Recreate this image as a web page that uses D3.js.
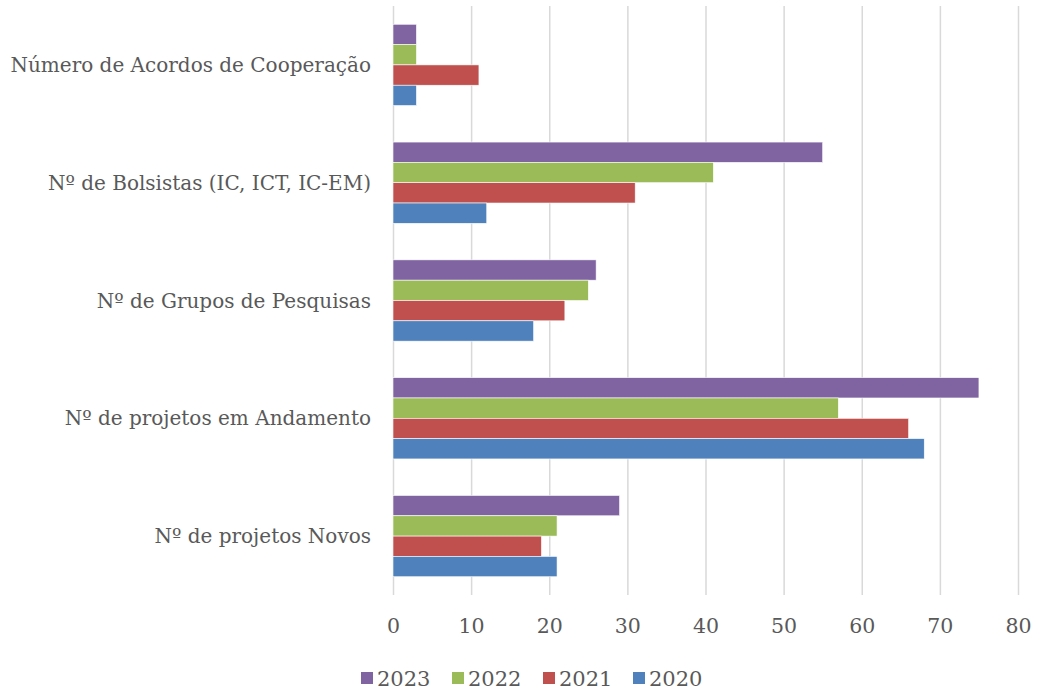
<!DOCTYPE html>
<html>
<head>
<meta charset="utf-8">
<script src="https://cdn.jsdelivr.net/npm/d3@7"></script>
<style>
  body { margin: 0; background: #fff; }
  text { font-family: "DejaVu Serif", "Liberation Serif", serif; fill: #595959; }
</style>
</head>
<body>
<script>
// categories top to bottom, series drawn top to bottom inside each group
var categories = [
  "Número de Acordos de Cooperação",
  "Nº de Bolsistas (IC, ICT, IC-EM)",
  "Nº de Grupos de Pesquisas",
  "Nº de projetos em Andamento",
  "Nº de projetos Novos"
];
var years = ["2023", "2022", "2021", "2020"];
var colors = ["#8064A2", "#9BBB59", "#C0504D", "#4F81BD"];

var values2023 = [3, 55, 26, 75, 29];
var values2022 = [3, 41, 25, 57, 21];
var values2021 = [11, 31, 22, 66, 19];
var values2020 = [3, 12, 18, 68, 21];
var xTicks = [0, 10, 20, 30, 40, 50, 60, 70, 80];

var series = [values2023, values2022, values2021, values2020];

var W = 1055, H = 692;
var margin = {top: 6, right: 37, bottom: 97, left: 393};
var width = W - margin.left - margin.right;
var height = H - margin.top - margin.bottom;

var svg = d3.select("body").append("svg")
    .attr("width", W)
    .attr("height", H)
    .append("g")
    .attr("transform", "translate(" + margin.left + "," + margin.top + ")");

var xScale = d3.scaleLinear().domain([0, 80]).range([0, width]);
var yScale = d3.scaleBand().domain(categories).range([0, height])
    .paddingInner(0.31).paddingOuter(0.155);
var ySub = d3.scaleBand().domain(years).range([0, yScale.bandwidth()]);

// gridlines + tick labels
var xAxis = d3.axisBottom(xScale).tickValues(xTicks).tickSize(-height).tickPadding(23);
var gx = svg.append("g")
    .attr("transform", "translate(0," + height + ")")
    .call(xAxis);
gx.select(".domain").remove();
gx.selectAll(".tick line").attr("stroke", "#d9d9d9").attr("stroke-width", 1.5);
gx.selectAll(".tick text")
    .style("font-family", "DejaVu Serif")
    .style("font-size", "20.5px")
    .attr("fill", "#595959");

// bars
categories.forEach(function(cat, i) {
    var g = svg.append("g").attr("transform", "translate(0," + yScale(cat) + ")");
    years.forEach(function(yr, j) {
        g.append("rect")
            .attr("x", xScale(0))
            .attr("y", ySub(yr))
            .attr("width", xScale(series[j][i]) - xScale(0))
            .attr("height", ySub.bandwidth())
            .attr("fill", colors[j])
            .attr("stroke", "#fff")
            .attr("stroke-width", 0.6);
    });
});

// category labels
svg.selectAll(".cat")
    .data(categories)
    .enter().append("text")
    .attr("class", "cat")
    .attr("x", -22)
    .attr("y", function(d) { return yScale(d) + yScale.bandwidth() / 2; })
    .attr("dy", "0.35em")
    .attr("text-anchor", "end")
    .style("font-size", "20px")
    .text(function(d) { return d; });

// legend
var legend = d3.select("svg").append("g").attr("transform", "translate(0,678)");
var legX = [361, 452, 543, 633];
years.forEach(function(yr, j) {
    legend.append("rect")
        .attr("x", legX[j]).attr("y", -6)
        .attr("width", 12).attr("height", 12)
        .attr("fill", colors[j]);
    legend.append("text")
        .attr("x", legX[j] + 16).attr("y", 0)
        .attr("dy", "0.36em")
        .style("font-size", "21px")
        .text(yr);
});
</script>
</body>
</html>
